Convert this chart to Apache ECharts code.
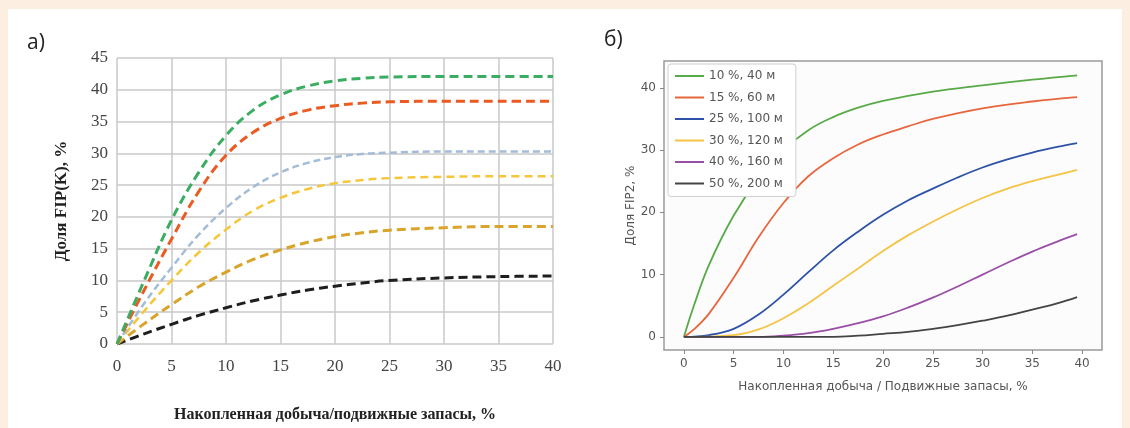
<!DOCTYPE html>
<html>
<head>
<meta charset="utf-8">
<script src="https://cdn.jsdelivr.net/npm/echarts@6/dist/echarts.min.js"></script>
<style>
  html, body { margin: 0; padding: 0; background: #fcefe2; }
  #main { width: 1130px; height: 428px; }
</style>
</head>
<body>
<div id="main"></div>
<script>
    // а) доля FIP(K)
    var leftGreen  = [[0,0],[2.5,10],[5,19.5],[7.5,27],[10,32.8],[12.5,36.8],[15,39.2],[17.5,40.6],[20,41.4],[22.5,41.8],[25,42],[30,42.1],[35,42.1],[40,42.1]];
    var leftRed    = [[0,0],[2.5,8.5],[5,16.5],[7.5,24],[10,29.7],[12.5,33.3],[15,35.5],[17.5,36.8],[20,37.5],[22.5,37.9],[25,38.1],[30,38.2],[35,38.2],[40,38.2]];
    var leftBlue   = [[0,0],[2.5,6.4],[5,12],[7.5,17.2],[10,21.4],[12.5,24.7],[15,27],[17.5,28.5],[20,29.4],[22.5,29.9],[25,30.1],[30,30.3],[35,30.3],[40,30.3]];
    var leftYellow = [[0,0],[2.5,5.2],[5,10],[7.5,14.4],[10,18],[12.5,21],[15,23],[17.5,24.4],[20,25.3],[22.5,25.8],[25,26.1],[30,26.3],[35,26.4],[40,26.4]];
    var leftGold   = [[0,0],[2.5,3.2],[5,6.2],[7.5,9],[10,11.3],[12.5,13.3],[15,14.8],[17.5,16],[20,16.9],[22.5,17.5],[25,17.9],[30,18.3],[35,18.5],[40,18.5]];
    var leftBlack  = [[0,0],[2.5,1.6],[5,3.1],[7.5,4.5],[10,5.7],[12.5,6.8],[15,7.7],[17.5,8.5],[20,9.1],[22.5,9.6],[25,10],[30,10.4],[35,10.6],[40,10.7]];

    // б) доля FIP2
    var legendNames = ['10 %, 40 м', '15 %, 60 м', '25 %, 100 м', '30 %, 120 м', '40 %, 160 м', '50 %, 200 м'];
    var r10 = [[0,0],[1,5],[2.5,11.5],[5,19.5],[7.5,25.5],[10,30],[12.5,33.2],[15,35.3],[17.5,36.8],[20,37.9],[25,39.4],[30,40.4],[35,41.3],[39.5,42]];
    var r15 = [[0,0],[1,1.2],[2.5,3.7],[5,9.5],[7.5,16],[10,21.5],[12.5,25.8],[15,28.7],[17.5,30.9],[20,32.5],[22.5,33.8],[25,35],[30,36.7],[35,37.8],[39.5,38.5]];
    var r25 = [[0,0],[2.5,0.3],[5,1.3],[7.5,3.6],[10,6.8],[12.5,10.4],[15,13.9],[17.5,16.9],[20,19.6],[22.5,21.9],[25,23.8],[27.5,25.6],[30,27.2],[32.5,28.5],[35,29.6],[37.5,30.5],[39.5,31.1]];
    var r30 = [[0,0],[5,0.3],[7.5,1.2],[10,3],[12.5,5.4],[15,8.2],[17.5,11],[20,13.8],[22.5,16.3],[25,18.5],[27.5,20.5],[30,22.3],[32.5,23.8],[35,25],[37.5,26],[39.5,26.8]];
    var r40 = [[0,0],[7.5,0],[10,0.2],[12.5,0.6],[15,1.3],[17.5,2.2],[20,3.3],[22.5,4.7],[25,6.3],[27.5,8.1],[30,10],[32.5,11.9],[35,13.7],[37.5,15.3],[39.5,16.5]];
    var r50 = [[0,0],[15,0],[17.5,0.2],[20,0.5],[22.5,0.8],[25,1.3],[27.5,1.9],[30,2.6],[32.5,3.4],[35,4.4],[37.5,5.4],[39.5,6.4]];

    var rightTicksX = [0, 5, 10, 15, 20, 25, 30, 35, 40];
    var rightTicksY = [0, 10, 20, 30, 40];

    var serif = 'Liberation Serif';
    var sans = 'DejaVu Sans';

    function dashed(data, color, width, dash) {
        return {
            type: 'line', xAxisIndex: 0, yAxisIndex: 0, data: data,
            smooth: 0.4, symbol: 'none', silent: true,
            lineStyle: { color: color, width: width, type: dash }
        };
    }
    function solid(name, data, color) {
        return {
            name: name, type: 'line', xAxisIndex: 1, yAxisIndex: 1, data: data,
            smooth: 0.4, symbol: 'none', silent: true,
            itemStyle: { color: color },
            lineStyle: { color: color, width: 1.8 }
        };
    }

    var myChart = echarts.init(document.getElementById('main'));
    option = {
        animation: false,
        graphic: [
            { type: 'rect', z: -10, shape: { x: 8, y: 9, width: 1114, height: 419 }, style: { fill: '#ffffff' } },
            { type: 'text', left: 27, top: 33, style: { text: 'а)', font: '21px "Open Sans"', fill: '#222' } },
            { type: 'text', left: 604, top: 30, style: { text: 'б)', font: '21px "Open Sans"', fill: '#222' } }
        ],
        grid: [
            { left: 117, top: 58, width: 436, height: 290 },
            { left: 664, top: 61, width: 438, height: 289, show: true,
              backgroundColor: '#fcfcfc', borderColor: '#9a9a9a', borderWidth: 1.5 }
        ],
        legend: {
            data: legendNames,
            orient: 'vertical',
            left: 668, top: 64,
            padding: [5, 13, 6, 7],
            itemGap: 7.5,
            icon: 'rect',
            itemWidth: 29, itemHeight: 2,
            backgroundColor: '#ffffff',
            borderColor: '#d0d0d0', borderWidth: 1, borderRadius: 3,
            textStyle: { fontFamily: sans, fontSize: 12, color: '#555', lineHeight: 14 }
        },
        xAxis: [
            {
                type: 'value', gridIndex: 0, min: 0, max: 40, interval: 5,
                name: 'Накопленная добыча/подвижные запасы, %',
                nameLocation: 'middle', nameGap: 63,
                nameTextStyle: { fontFamily: serif, fontSize: 16, fontWeight: 'bold', color: '#222' },
                axisLine: { show: false }, axisTick: { show: false },
                axisLabel: { fontFamily: serif, fontSize: 17, color: '#444', margin: 14 },
                splitLine: { lineStyle: { color: '#c8c8c8', width: 1.5 } }
            },
            {
                type: 'value', gridIndex: 1, min: -2, max: 42,
                name: 'Накопленная добыча / Подвижные запасы, %',
                nameLocation: 'middle', nameGap: 31,
                nameTextStyle: { fontFamily: sans, fontSize: 12, color: '#555' },
                axisLine: { show: false, onZero: false },
                axisTick: { show: true, inside: false, length: 4, customValues: rightTicksX, lineStyle: { color: '#888', width: 1 } },
                axisLabel: { fontFamily: sans, fontSize: 12, color: '#555', margin: 8, customValues: rightTicksX },
                splitLine: { show: false }
            }
        ],
        yAxis: [
            {
                type: 'value', gridIndex: 0, min: 0, max: 45, interval: 5,
                name: 'Доля FIP(K), %',
                nameLocation: 'middle', nameGap: 47,
                nameTextStyle: { fontFamily: serif, fontSize: 17, fontWeight: 'bold', color: '#222' },
                axisLine: { show: false }, axisTick: { show: false },
                axisLabel: { fontFamily: serif, fontSize: 17, color: '#444', margin: 9 },
                splitLine: { lineStyle: { color: '#c8c8c8', width: 1.5 } }
            },
            {
                type: 'value', gridIndex: 1, min: -2.1, max: 44.3,
                name: 'Доля FIP2, %',
                nameLocation: 'middle', nameGap: 27,
                nameTextStyle: { fontFamily: sans, fontSize: 12, color: '#555' },
                axisLine: { show: false, onZero: false },
                axisTick: { show: true, inside: false, length: 4, customValues: rightTicksY, lineStyle: { color: '#888', width: 1 } },
                axisLabel: { fontFamily: sans, fontSize: 12, color: '#555', margin: 8, customValues: rightTicksY },
                splitLine: { show: false }
            }
        ],
        series: [
            dashed(leftBlack, '#1e1e1e', 3, [9, 5]),
            dashed(leftGold, '#d9a42c', 3, [9, 5]),
            dashed(leftYellow, '#f6c63a', 2.5, [8, 5]),
            dashed(leftBlue, '#a3bcd8', 2.5, [7, 4]),
            dashed(leftRed, '#eb5a20', 3, [9, 5]),
            dashed(leftGreen, '#3aad62', 3, [9, 5]),
            solid(legendNames[0], r10, '#58aa48'),
            solid(legendNames[1], r15, '#e8663e'),
            solid(legendNames[2], r25, '#2d52a8'),
            solid(legendNames[3], r30, '#f5c446'),
            solid(legendNames[4], r40, '#9a4fa6'),
            solid(legendNames[5], r50, '#444444')
        ]
    };

    myChart.setOption(option);
</script>
</body>
</html>
